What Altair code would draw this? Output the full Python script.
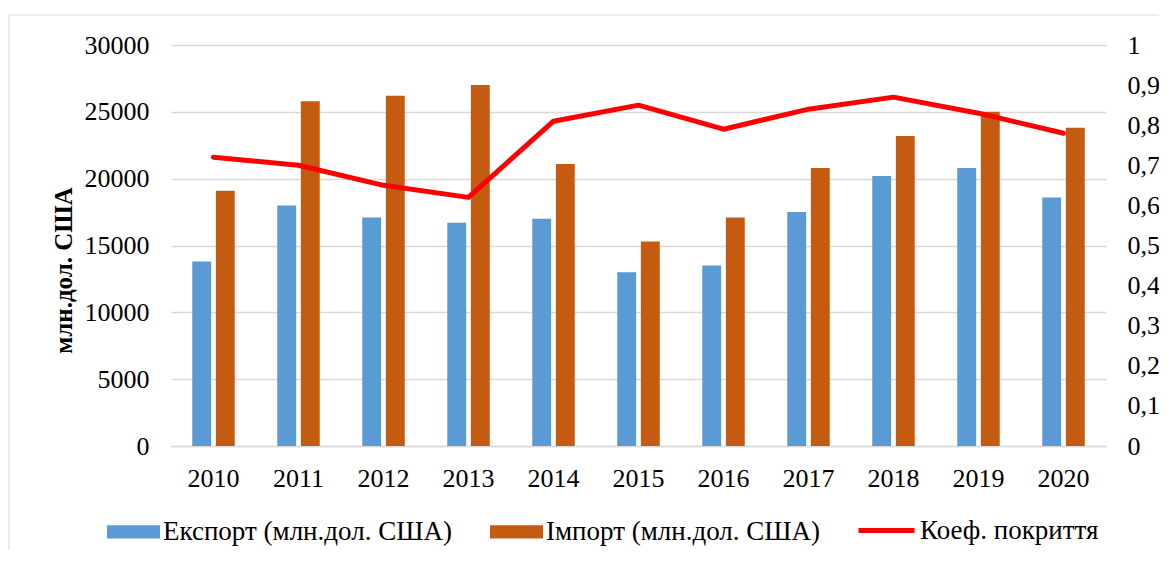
import altair as alt
import pandas as pd

years = ["2010", "2011", "2012", "2013", "2014", "2015", "2016", "2017", "2018", "2019", "2020"]
export_vals = [13800, 18000, 17100, 16700, 17000, 13000, 13500, 17500, 20200, 20800, 18600]
import_vals = [19100, 25800, 26200, 27000, 21100, 15300, 17100, 20800, 23200, 25000, 23800]
coef_vals = [0.72, 0.70, 0.65, 0.62, 0.81, 0.85, 0.79, 0.84, 0.87, 0.83, 0.78]

series_names = ["Експорт (млн.дол. США)", "Імпорт (млн.дол. США)"]
line_name = "Коеф. покриття"
left_ticks = [0, 5000, 10000, 15000, 20000, 25000, 30000]
right_ticks = [0, 0.1, 0.2, 0.3, 0.4, 0.5, 0.6, 0.7, 0.8, 0.9, 1.0]

FONT = "Liberation Serif"

rows = []
for y, e, i in zip(years, export_vals, import_vals):
    rows.append({"year": y, "series": series_names[0], "value": e})
    rows.append({"year": y, "series": series_names[1], "value": i})
df_bars = pd.DataFrame(rows)
df_line = pd.DataFrame({"year": years, "coef": coef_vals, "label": [line_name] * len(years)})

border = alt.Chart(pd.DataFrame({"a": [0]})).mark_rect(
    fillOpacity=0, stroke="#d9d9d9", strokeWidth=1
).encode(
    x=alt.value(-162), x2=alt.value(1300), y=alt.value(-30), y2=alt.value(800)
)

bars = alt.Chart(df_bars).mark_bar().encode(
    x=alt.X(
        "year:N",
        sort=years,
        scale=alt.Scale(paddingInner=0.5, paddingOuter=0.25),
        axis=alt.Axis(
            title=None, labelAngle=0, ticks=False, domainColor="#d9d9d9", domainWidth=1.3,
            labelFontSize=26, labelPadding=19, labelColor="black", labelFont=FONT,
        ),
    ),
    xOffset=alt.XOffset("series:N", sort=series_names,
                        scale=alt.Scale(paddingInner=0.2, paddingOuter=0)),
    y=alt.Y(
        "value:Q",
        scale=alt.Scale(domain=[0, 30000], nice=False),
        axis=alt.Axis(
            values=left_ticks, format="d", ticks=False, domain=False, labelPadding=22,
            labelFontSize=26, labelColor="black", labelFont=FONT,
            gridColor="#d9d9d9", gridWidth=1.3,
            title="млн.дол. США", titleFont=FONT, titleFontSize=25, titleFontWeight="bold",
            titleColor="black", titleX=-108, titleY=225, titleAngle=-90,
            titleAlign="center", titleBaseline="middle",
        ),
    ),
    color=alt.Color(
        "series:N",
        sort=series_names,
        scale=alt.Scale(domain=series_names, range=["#5B9BD5", "#C55A11"]),
        legend=alt.Legend(
            title=None, orient="none", legendX=-64, legendY=460, direction="horizontal",
            symbolType="M-1,-0.25H1V0.25H-1Z", symbolSize=2809, symbolStrokeWidth=0,
            labelFont=FONT, labelFontSize=27, labelColor="black", labelOffset=3,
            labelLimit=500, columnPadding=38, padding=0,
        ),
    ),
)

line = alt.Chart(df_line).mark_line(
    strokeWidth=5, strokeCap="round", strokeJoin="round"
).encode(
    x=alt.X("year:N", sort=years),
    y=alt.Y(
        "coef:Q",
        scale=alt.Scale(domain=[0, 1], nice=False),
        axis=alt.Axis(
            orient="right", values=right_ticks, ticks=False, domain=False, grid=False,
            title=None, labelPadding=21, labelFontSize=26, labelColor="black", labelFont=FONT,
            labelExpr="datum.value == 0 ? '0' : (datum.value == 1 ? '1' : replace(format(datum.value, '.1f'), '.', ','))",
        ),
    ),
    stroke=alt.Stroke(
        "label:N",
        scale=alt.Scale(domain=[line_name], range=["#FF0000"]),
        legend=alt.Legend(
            title=None, orient="none", legendX=685, legendY=455, direction="horizontal",
            symbolType="stroke", symbolSize=3136, symbolStrokeWidth=5,
            labelFont=FONT, labelFontSize=27, labelColor="black", labelOffset=3,
            labelLimit=500, padding=0,
        ),
    ),
)

chart = alt.layer(border, bars, line).resolve_scale(
    y="independent"
).properties(
    width=935, height=401,
    autosize=alt.AutoSizeParams(type="none"),
    padding={"left": 163, "top": 37, "right": 53, "bottom": 104},
).configure_view(stroke=None)

chart.save("out.html", embed_options={"renderer": "svg", "actions": False})
